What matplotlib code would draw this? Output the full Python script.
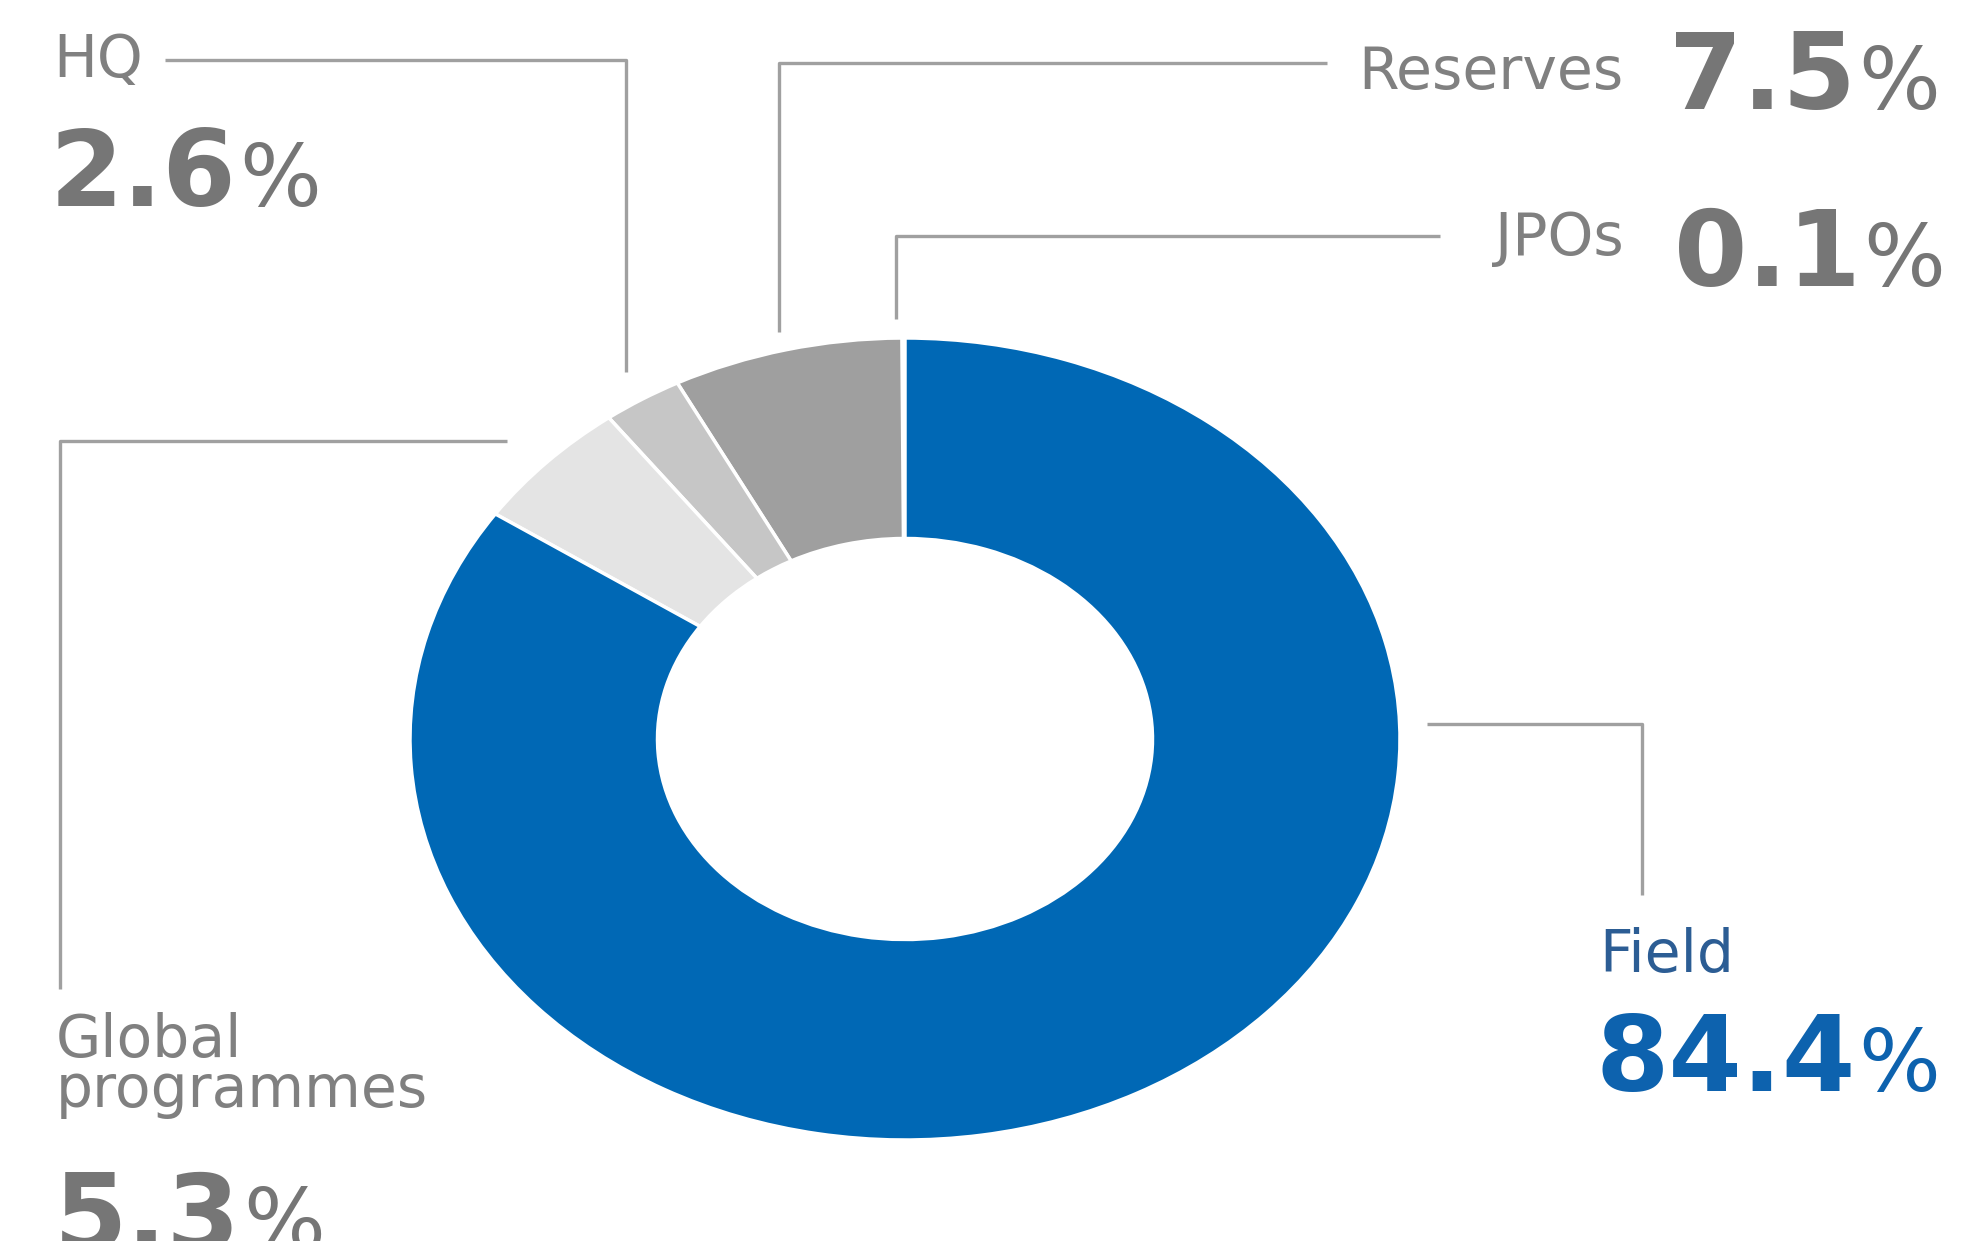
import matplotlib
matplotlib.use("Agg")
import matplotlib.pyplot as plt

# ---- data ----
categories = ["JPOs", "Reserves", "HQ", "Global programmes", "Field"]
shares = [0.1, 7.5, 2.6, 5.3, 84.4]
label_texts = ["JPOs", "Reserves", "HQ", "Global\nprogrammes", "Field"]
value_texts = ["0.1", "7.5", "2.6", "5.3", "84.4"]

# ---- styles ----
wedge_colors = ["#D3DAEA", "#9F9F9F", "#C6C6C6", "#E4E4E4", "#0068B5"]
label_colors = ["#808080", "#808080", "#808080", "#808080", "#2C5D94"]
value_colors = ["#767676", "#767676", "#767676", "#767676", "#0D62AE"]
line_color = "#A0A0A0"

W, H = 1963, 1241
DPI = 100
fig = plt.figure(figsize=(W / DPI, H / DPI), dpi=DPI)
fig.patch.set_facecolor("white")

# donut axes (elliptical, fills its box)
cx0, cx1, cy0, cy1 = 410, 1400, 338, 1140
ax = fig.add_axes([cx0 / W, 1 - cy1 / H, (cx1 - cx0) / W, (cy1 - cy0) / H])
ax.pie(shares, colors=wedge_colors, startangle=90, counterclock=True,
       radius=1.0, wedgeprops=dict(width=0.5, edgecolor="white", linewidth=2.5))
ax.set_aspect("auto")
ax.set_xlim(-1, 1)
ax.set_ylim(-1, 1)
ax.axis("off")

# overlay axes in pixel coordinates (y downwards)
ov = fig.add_axes([0, 0, 1, 1])
ov.set_xlim(0, W)
ov.set_ylim(H, 0)
ov.axis("off")
ov.patch.set_alpha(0)

# layout: leader lines, label anchors (x, baseline y of last line, ha), value anchors
leaders = {
    "JPOs": [(896, 319), (896, 236), (1440, 236)],
    "Reserves": [(779, 332), (779, 63), (1327, 63)],
    "HQ": [(165, 60), (626, 60), (626, 372)],
    "Global programmes": [(507, 441), (60, 441), (60, 989)],
    "Field": [(1427, 724), (1642, 724), (1642, 895)],
}
label_pos = {
    "JPOs": (1624, 255, "right"),
    "Reserves": (1624, 89, "right"),
    "HQ": (53, 77, "left"),
    "Global programmes": (56, 1107, "left"),
    "Field": (1599, 972, "left"),
}
value_pos = {
    "JPOs": (1674, 286),
    "Reserves": (1669, 109),
    "HQ": (50, 206),
    "Global programmes": (54, 1250),
    "Field": (1596, 1091),
}

label_fs = 42
num_fs = 76
pct_fs = 62

fig.canvas.draw()
renderer = fig.canvas.get_renderer()

for i, cat in enumerate(categories):
    pts = leaders[cat]
    ov.plot([p[0] for p in pts], [p[1] for p in pts], color=line_color,
            lw=2.4, solid_joinstyle="round", solid_capstyle="butt")

    lx, ly, ha = label_pos[cat]
    ov.text(lx, ly, label_texts[i], ha=ha, va="baseline", multialignment="left",
            fontsize=label_fs, linespacing=0.85,
            color=label_colors[i], family="DejaVu Sans")

    vx, vy = value_pos[cat]
    t = ov.text(vx, vy, value_texts[i], ha="left", va="baseline",
                fontsize=num_fs, fontweight="bold", color=value_colors[i],
                family="DejaVu Sans")
    bb = t.get_window_extent(renderer=renderer)
    ov.text(bb.x1 + 2, vy, "%", ha="left", va="baseline", fontsize=pct_fs,
            color=value_colors[i], family="DejaVu Sans")

fig.savefig("out.png", dpi=DPI, facecolor="white")
